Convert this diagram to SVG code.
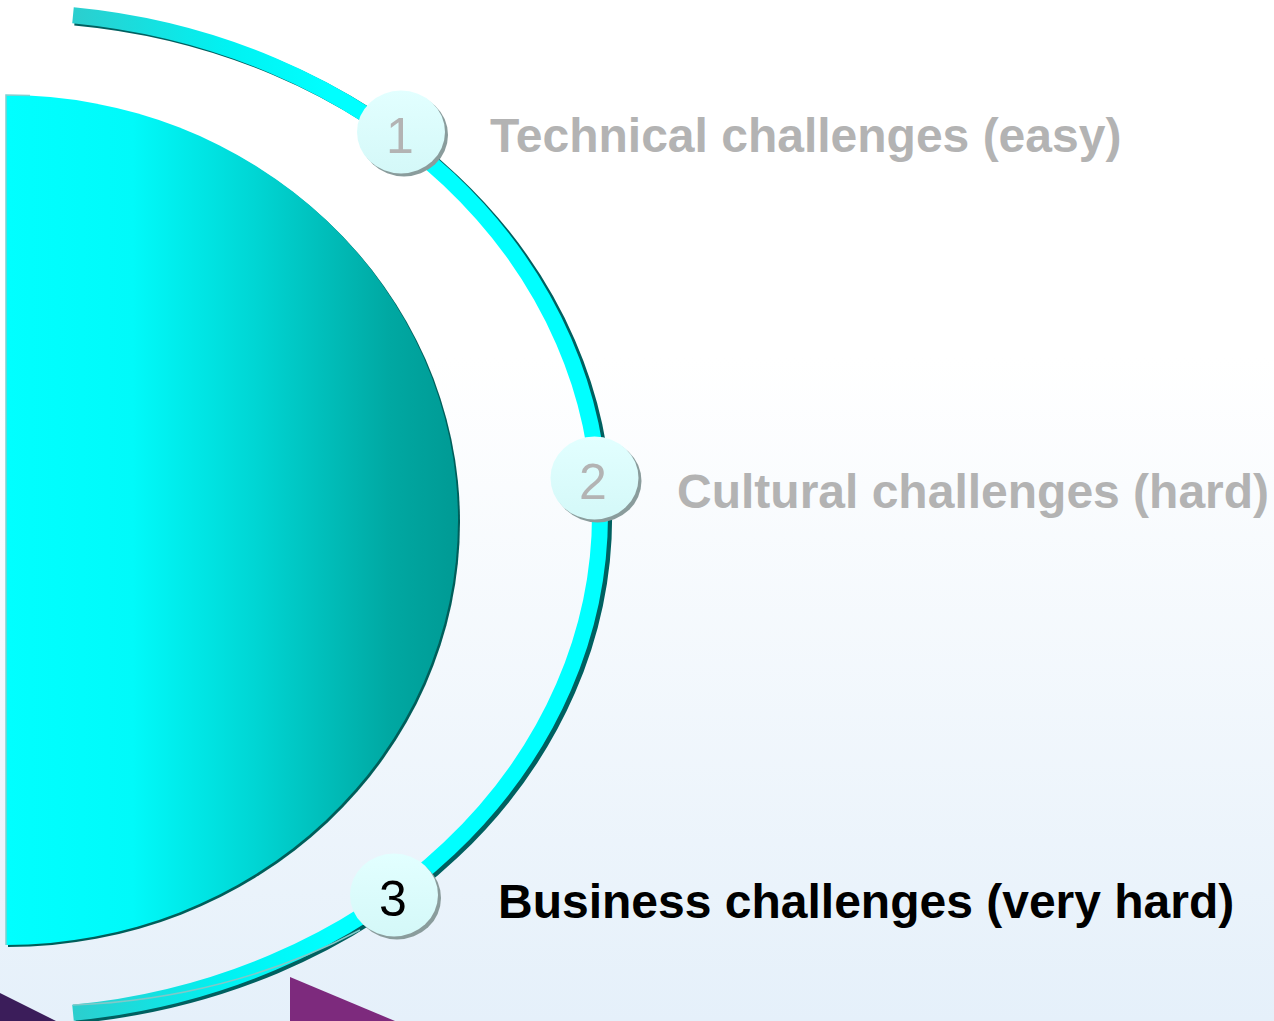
<svg xmlns="http://www.w3.org/2000/svg" width="1274" height="1021" viewBox="0 0 1274 1021">
  <defs>
    <linearGradient id="bg" x1="0" y1="0" x2="0" y2="1">
      <stop offset="0" stop-color="#ffffff"/>
      <stop offset="0.35" stop-color="#ffffff"/>
      <stop offset="1" stop-color="#e5f0fa"/>
    </linearGradient>
    <linearGradient id="disk" gradientUnits="userSpaceOnUse" x1="6" y1="0" x2="458" y2="0">
      <stop offset="0" stop-color="#00ffff"/>
      <stop offset="0.28" stop-color="#00fafa"/>
      <stop offset="0.55" stop-color="#00d6d4"/>
      <stop offset="0.85" stop-color="#00a8a2"/>
      <stop offset="1" stop-color="#009a94"/>
    </linearGradient>
    <linearGradient id="band" gradientUnits="userSpaceOnUse" x1="73" y1="0" x2="330" y2="0">
      <stop offset="0" stop-color="#2ccece"/>
      <stop offset="0.6" stop-color="#00f2f2"/>
      <stop offset="1" stop-color="#00ffff"/>
    </linearGradient>
    <linearGradient id="bubble" x1="0" y1="0" x2="0" y2="1">
      <stop offset="0" stop-color="#e2ffff"/>
      <stop offset="1" stop-color="#d4f8f8"/>
    </linearGradient>
  </defs>
  <style>
    .num { font-family: "Liberation Sans", Arial, sans-serif; font-size: 50px; text-anchor: middle; }
    .lbl { font-family: "Liberation Sans", Arial, sans-serif; font-size: 48px; font-weight: bold; }
    .dim { fill: #b3b3b3; }
    .on { fill: #000000; }
    .bshadow { fill: #8a9c9c; }
    .bmain { fill: url(#bubble); }
  </style>

  <rect x="0" y="0" width="1274" height="1021" fill="url(#bg)"/>

  <g id="decor">
    <polygon points="0,993 56,1021 0,1021" fill="#3b1d5a"/>
    <polygon points="290,977 395,1021 290,1021" fill="#7d2a7d"/>
  </g>

  <g id="half-disk">
    <path d="M 8,97 A 452 425 0 0 1 8,947 Z" fill="#005e5a"/>
    <path d="M 6,95 A 452 425 0 0 1 6,945 Z" fill="url(#disk)"/>
    <path d="M 6,945 L 6,95 L 30,95.5" fill="none" stroke="#7fd0d0" stroke-width="1.5"/>
  </g>

  <g id="connectors">
    <path d="M 75,17.5 A 594 502 0 0 1 75,1015.5" fill="none" stroke="#006060" stroke-width="16"/>
    <path d="M 73,15.2 A 594 502 0 0 1 73,1012.8" fill="none" stroke="url(#band)" stroke-width="16"/>
    <path d="M 73,1005 A 587 495 0 0 0 360,930" fill="none" stroke="#80c8c8" stroke-width="1.5"/>
  </g>

  <g id="step1">
    <ellipse cx="404" cy="135" rx="44" ry="41.5" class="bshadow"/>
    <ellipse cx="401" cy="132" rx="44" ry="41.5" class="bmain"/>
    <text x="400" y="153" class="num dim">1</text>
  </g>
  <g id="step2">
    <ellipse cx="597.5" cy="481" rx="44" ry="41.5" class="bshadow"/>
    <ellipse cx="594.5" cy="478" rx="44" ry="41.5" class="bmain"/>
    <text x="593" y="499" class="num dim">2</text>
  </g>
  <g id="step3">
    <ellipse cx="397" cy="898" rx="44" ry="41.5" class="bshadow"/>
    <ellipse cx="394" cy="895" rx="44" ry="41.5" class="bmain"/>
    <text x="393" y="916" class="num on">3</text>
  </g>

  <g id="label1"><text x="490" y="152" class="lbl dim">Technical challenges (easy)</text></g>
  <g id="label2"><text x="677" y="508" class="lbl dim">Cultural challenges (hard)</text></g>
  <g id="label3"><text x="498" y="918" class="lbl on">Business challenges (very hard)</text></g>
</svg>
